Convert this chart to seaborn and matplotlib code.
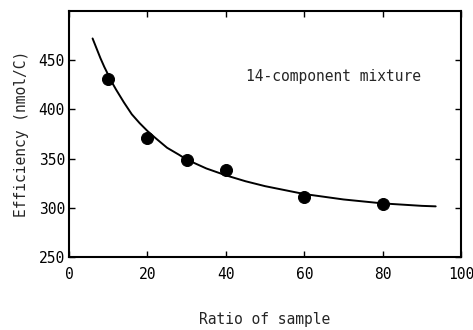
import pandas as pd
import seaborn as sns
import matplotlib.pyplot as plt

# measured points
ratio = [10, 20, 30, 40, 60, 80]
efficiency = [431, 371, 348.5, 338, 311, 303.5]

# fitted curve
curve_x = [6, 7, 8, 9, 10, 11, 12, 14, 16, 18, 20, 22, 25, 28, 30, 35, 40, 45, 50, 60, 70, 80, 90, 93.5]
curve_y = [472, 462, 452, 443, 435, 427, 420, 407, 395, 386, 378, 371, 361, 354, 349, 340, 333, 327, 322, 314, 308.5, 304.5, 302, 301.5]

points = pd.DataFrame({'ratio': ratio, 'efficiency': efficiency})
curve = pd.DataFrame({'ratio': curve_x, 'efficiency': curve_y})

sns.set_style('ticks')
plt.rcParams['font.family'] = ['DejaVu Sans Mono']

fig = plt.figure(figsize=(4.73, 3.30), dpi=100)
ax = fig.add_axes([0.146, 0.221, 0.829, 0.746])

sns.lineplot(x='ratio', y='efficiency', data=curve, color='black', linewidth=1.4, ax=ax)
sns.scatterplot(x='ratio', y='efficiency', data=points, color='black', s=75,
                edgecolor='black', zorder=3, ax=ax)

ax.set_xlim(0, 100)
ax.set_ylim(250, 500)
ax.set_xticks([0, 20, 40, 60, 80, 100])
ax.set_yticks([250, 300, 350, 400, 450])

ax.tick_params(direction='in', length=4, width=1, top=True, right=True,
               labelsize=10.5, colors='black')
ax.tick_params(axis='x', pad=7)
ax.tick_params(axis='y', pad=3)
for s in ax.spines.values():
    s.set_linewidth(1.5)
    s.set_color('black')

ax.set_xlabel('Ratio of sample', fontsize=10.5, labelpad=22)
ax.set_ylabel('Efficiency (nmol/C)', fontsize=10.5, labelpad=7)

ax.text(45, 433, '14-component mixture', fontsize=10.5, va='center', ha='left')

fig.savefig('out.png', dpi=100)
